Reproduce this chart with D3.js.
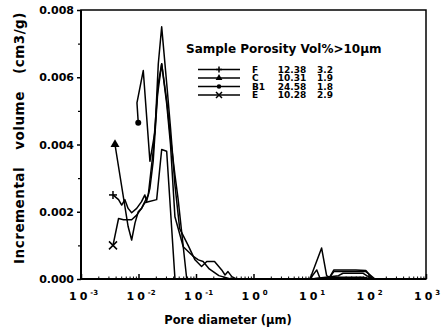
<!DOCTYPE html>
<html>
<head>
<meta charset="utf-8">
<script src="https://cdn.jsdelivr.net/npm/d3@7"></script>
<style>
  html, body { margin: 0; padding: 0; background: #fff; }
  svg { display: block; }
  text { font-family: "DejaVu Sans", sans-serif; font-weight: bold; fill: #000; }
</style>
</head>
<body>
<svg id="chart" width="442" height="327"></svg>
<script>
// ---- data (pore diameter in µm, incremental volume in cm3/g) ----
const seriesNames = ["F", "C", "B1", "E"];
const porosity = ["12.38", "10.31", "24.58", "10.28"];
const volOver10 = ["3.2", "1.9", "1.8", "2.9"];

const xF = [0.0036, 0.0045, 0.0051, 0.0058, 0.0066, 0.0076, 0.0093, 0.0113, 0.0129, 0.0138, 0.0158, 0.018, 0.0215, 0.0253, 0.031, 0.036, 0.043, 0.06, 0.09, 0.11, 0.133, 0.17, 0.25, 0.4, 1, 5, 9.6, 15.3, 18.7, 21, 25, 30, 60, 90, 120, 200, 800];
const yF = [0.0025, 0.00236, 0.0022, 0.00236, 0.0021, 0.00197, 0.0021, 0.0023, 0.0025, 0.0023, 0.0027, 0.0035, 0.0055, 0.0064, 0.0052, 0.0040, 0.00185, 0.00096, 0.00067, 0.00057, 0.00052, 0.0003, 0.0001, 0, 0, 0, 0, 0.00092, 0.0001, 0.00005, 0.00027, 0.00027, 0.00027, 0.00025, 0, 0, 0];

const xC = [0.0039, 0.0066, 0.0076, 0.0087, 0.0099, 0.0113, 0.0129, 0.0148, 0.018, 0.022, 0.0253, 0.031, 0.036, 0.043, 0.0487, 0.069, 0.2, 10, 30, 36, 81, 93, 120, 800];
const yC = [0.004, 0.00156, 0.00116, 0.00167, 0.002, 0.0021, 0.0023, 0.0025, 0.0038, 0.0058, 0.0064, 0.0053, 0.0042, 0.0031, 0.0024, 0, 0, 0, 0.0001, 0.00017, 0.00017, 0.0001, 0, 0];

const xB1 = [0.0099, 0.0094, 0.0121, 0.0158, 0.0194, 0.0221, 0.0253, 0.031, 0.036, 0.043, 0.052, 0.073, 0.096, 0.125, 0.154, 0.21, 0.28, 0.32, 0.36, 0.42, 0.5, 10, 25, 80, 120, 800];
const yB1 = [0.00465, 0.00524, 0.0062, 0.0035, 0.0044, 0.0064, 0.0075, 0.0058, 0.0045, 0.0028, 0.0015, 0.001, 0.00057, 0.00037, 0.00052, 0.00052, 0.00027, 0.00012, 0.00022, 0.00007, 0, 0, 0.00005, 0.00005, 0, 0];

const xE = [0.0036, 0.0045, 0.0055, 0.0076, 0.0093, 0.0113, 0.0129, 0.0148, 0.0207, 0.0253, 0.0309, 0.0431, 0.1, 9.6, 12.6, 14.5, 20, 25, 90, 130, 800];
const yE = [0.001, 0.0018, 0.00176, 0.00176, 0.0019, 0.0021, 0.00227, 0.0023, 0.00236, 0.00385, 0.0038, 0, 0, 0, 0.00027, 0, 0, 0.00022, 0.00022, 0, 0];

const yTicks = [0, 0.002, 0.004, 0.006, 0.008];
const yMinor = [0.001, 0.003, 0.005, 0.007];
const xExponents = [-3, -2, -1, 0, 1, 2, 3];

const xs = [xF, xC, xB1, xE];
const ys = [yF, yC, yB1, yE];
const markers = ["plus", "triangle", "circle", "cross"];

// ---- layout ----
const L = 81, R = 426, T = 10, B = 279;
const svg = d3.select("#chart");
const x = d3.scaleLog().domain([1e-3, 1e3]).range([L, R]);
const y = d3.scaleLinear().domain([0, 0.008]).range([B, T]);

// y axis (major, outward)
const gy = svg.append("g").attr("transform", `translate(${L},0)`)
  .call(d3.axisLeft(y).tickValues(yTicks).tickFormat(d3.format(".3f")).tickSize(4).tickPadding(3));
gy.select(".domain").remove();
gy.selectAll("line").attr("stroke", "#000").attr("stroke-width", 1.5);
gy.selectAll("text").style("font-size", "11px").style("font-family", "DejaVu Sans").style("font-weight", "bold");
const gym = svg.append("g").attr("transform", `translate(${L},0)`)
  .call(d3.axisLeft(y).tickValues(yMinor).tickFormat("").tickSize(3));
gym.select(".domain").remove();
gym.selectAll("line").attr("stroke", "#000").attr("stroke-width", 1.2);

// x axis (inward ticks)
const decades = xExponents.map(e => Math.pow(10, e));
const minors = [];
for (let e = -3; e < 3; e++) for (let k = 2; k <= 9; k++) minors.push(k * Math.pow(10, e));
const gx = svg.append("g").attr("transform", `translate(0,${B})`)
  .call(d3.axisBottom(x).tickValues(decades).tickFormat("").tickSize(-5));
gx.select(".domain").remove();
gx.selectAll("line").attr("stroke", "#000").attr("stroke-width", 1.5);
const gxm = svg.append("g").attr("transform", `translate(0,${B})`)
  .call(d3.axisBottom(x).tickValues(minors).tickFormat("").tickSize(-2.5));
gxm.select(".domain").remove();
gxm.selectAll("line").attr("stroke", "#000").attr("stroke-width", 1);

// x tick labels 10^n
xExponents.forEach(e => {
  const t = svg.append("text").attr("x", x(Math.pow(10, e)) - 12).attr("y", 300)
    .style("font-size", "11px");
  t.append("tspan").attr("letter-spacing", "3px").text("10");
  t.append("tspan").attr("dy", -5).attr("dx", 0).style("font-size", "7px")
    .text(e < 0 ? "-" + (-e) : String(e));
});

// frame
svg.append("rect").attr("x", L).attr("y", T).attr("width", R - L).attr("height", B - T)
  .attr("fill", "none").attr("stroke", "#000").attr("stroke-width", 1.5);
svg.append("line").attr("x1", L).attr("x2", L).attr("y1", T).attr("y2", B + 1)
  .attr("stroke", "#000").attr("stroke-width", 2);
svg.append("line").attr("x1", L).attr("x2", R).attr("y1", B).attr("y2", B)
  .attr("stroke", "#000").attr("stroke-width", 2);

// axis titles
svg.append("text").attr("transform", `translate(24,138) rotate(-90)`)
  .attr("text-anchor", "middle").style("font-size", "13.5px").attr("letter-spacing", "0.5px")
  .attr("word-spacing", "12px")
  .text("Incremental volume (cm3/g)");
svg.append("text").attr("x", 228).attr("y", 324).attr("text-anchor", "middle")
  .style("font-size", "11.5px").text("Pore diameter (µm)");

// marker drawing
function drawMarker(g, type, cx, cy, s) {
  if (type === "plus") {
    g.append("line").attr("x1", cx).attr("x2", cx).attr("y1", cy - s).attr("y2", cy + s)
      .attr("stroke", "#000").attr("stroke-width", 1.5);
    g.append("line").attr("x1", cx - s).attr("x2", cx + s).attr("y1", cy).attr("y2", cy)
      .attr("stroke", "#000").attr("stroke-width", 1.5);
  } else if (type === "triangle") {
    g.append("path").attr("d", d3.symbol(d3.symbolTriangle, s * s * 2.2)())
      .attr("transform", `translate(${cx},${cy})`).attr("fill", "#000");
  } else if (type === "circle") {
    g.append("circle").attr("cx", cx).attr("cy", cy).attr("r", s * 0.75).attr("fill", "#000");
  } else if (type === "cross") {
    g.append("path").attr("d", `M${cx - s},${cy - s}L${cx + s},${cy + s}M${cx - s},${cy + s}L${cx + s},${cy - s}`)
      .attr("stroke", "#000").attr("stroke-width", 1.5);
  }
}

// series lines
const line = d3.line().x(d => x(d[0])).y(d => y(d[1]));
const gl = svg.append("g");
seriesNames.forEach((n, i) => {
  const pts = xs[i].map((v, j) => [v, ys[i][j]]);
  gl.append("path").datum(pts).attr("d", line).attr("fill", "none")
    .attr("stroke", "#000").attr("stroke-width", 1.5).attr("stroke-linejoin", "round");
  drawMarker(gl, markers[i], x(pts[0][0]), y(pts[0][1]), 4);
});

// legend
svg.append("text").attr("x", 186).attr("y", 53).style("font-size", "12px")
  .text("Sample Porosity Vol%>10µm");
const rowsY = [69.5, 78, 86.5, 95];
seriesNames.forEach((n, i) => {
  const ry = rowsY[i];
  svg.append("line").attr("x1", 198).attr("x2", 240).attr("y1", ry).attr("y2", ry)
    .attr("stroke", "#000").attr("stroke-width", 1.5);
  drawMarker(svg, markers[i], 219, ry, 3);
  svg.append("text").attr("x", 252).attr("y", ry + 3).style("font-size", "9px").text(n);
  svg.append("text").attr("x", 292).attr("y", ry + 3).attr("text-anchor", "middle").style("font-size", "9px").text(porosity[i]);
  svg.append("text").attr("x", 333).attr("y", ry + 3).attr("text-anchor", "end").style("font-size", "9px").text(volOver10[i]);
});
</script>
</body>
</html>
